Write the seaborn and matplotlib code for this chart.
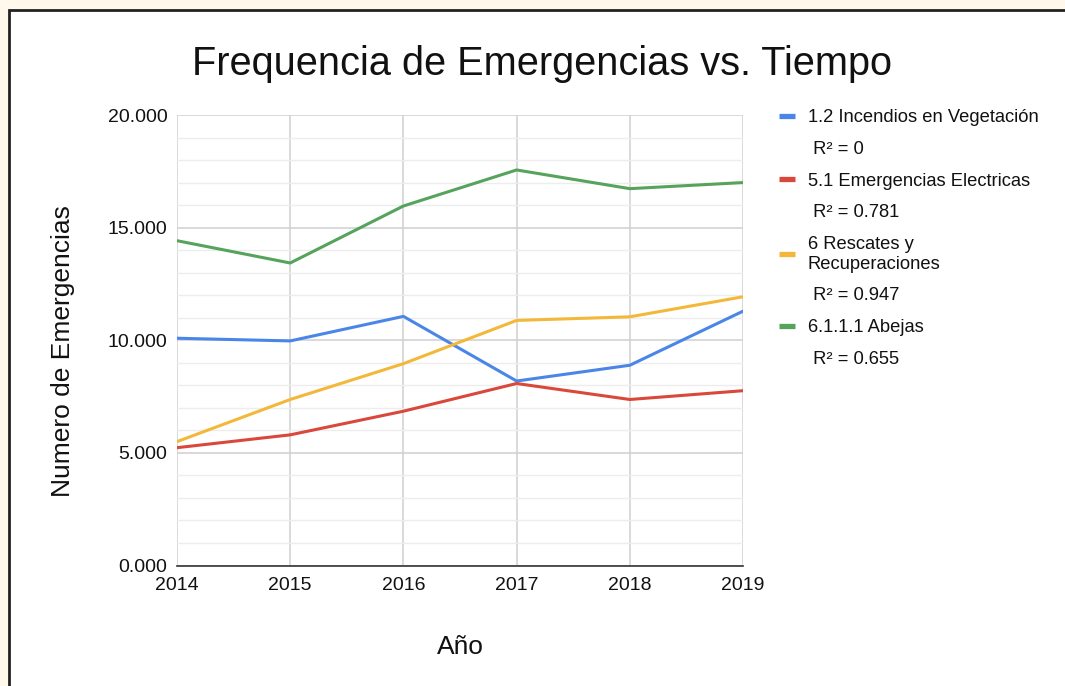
import matplotlib.pyplot as plt
import numpy as np
import pandas as pd
import seaborn as sns
from matplotlib.lines import Line2D
from matplotlib.patches import Rectangle
from matplotlib.ticker import FuncFormatter, MultipleLocator

YEARS = [2014, 2015, 2016, 2017, 2018, 2019]
SERIES = [
    "1.2 Incendios en Vegetación",
    "5.1 Emergencias Electricas",
    "6 Rescates y\nRecuperaciones",
    "6.1.1.1 Abejas",
]
INCENDIOS = [10090, 9970, 11060, 8190, 8890, 11290]
ELECTRICAS = [5230, 5800, 6850, 8080, 7370, 7760]
RESCATES = [5500, 7370, 8960, 10880, 11040, 11930]
ABEJAS = [14420, 13430, 15960, 17560, 16730, 17000]
R2_LABELS = ["R² = 0", "R² = 0.781", "R² = 0.947", "R² = 0.655"]

PALETTE = {
    SERIES[0]: "#4A86E8",
    SERIES[1]: "#D9483B",
    SERIES[2]: "#F3B83A",
    SERIES[3]: "#56A35B",
}

df = pd.DataFrame({
    "year": YEARS * 4,
    "value": INCENDIOS + ELECTRICAS + RESCATES + ABEJAS,
    "series": np.repeat(SERIES, len(YEARS)),
})

sns.set_style("white")
plt.rcParams["font.family"] = ["Liberation Sans", "DejaVu Sans"]
plt.rcParams["text.color"] = "#111111"
plt.rcParams["axes.labelcolor"] = "#111111"

fig = plt.figure(figsize=(10.65, 6.86), dpi=100)
fig.patch.set_facecolor("#FFF8EB")
# white card with dark border, open to the right/bottom edges
fig.patches.append(Rectangle((9 / 1065, -0.05), 1.1, 1 - 10 / 686 + 0.05,
                             transform=fig.transFigure, facecolor="white",
                             edgecolor="#222222", linewidth=2, zorder=-1))

ax = fig.add_axes([177 / 1065, 1 - 565.5 / 686, (743 - 177) / 1065, (565.5 - 115) / 686])
ax.set_facecolor("white")

sns.lineplot(data=df, x="year", y="value", hue="series", hue_order=SERIES,
             palette=PALETTE, linewidth=2.2, legend=False, ax=ax)

ax.set_xlim(2014, 2019)
ax.set_ylim(0, 20000)
ax.yaxis.set_major_locator(MultipleLocator(5000))
ax.yaxis.set_minor_locator(MultipleLocator(1000))
ax.yaxis.set_major_formatter(FuncFormatter(lambda v, _: f"{v / 1000:.3f}"))
ax.set_xticks(YEARS)
ax.grid(which="major", color="#D0D0D0", linewidth=1.1)
ax.grid(which="minor", axis="y", color="#EDEDED", linewidth=1.0)
ax.set_axisbelow(True)
for side in ["top", "right", "left"]:
    ax.spines[side].set_visible(False)
ax.spines["bottom"].set_color("#333333")
ax.spines["bottom"].set_linewidth(1.2)
ax.tick_params(axis="both", which="both", length=0, labelsize=14, colors="#111111")
ax.tick_params(axis="y", pad=7)
ax.tick_params(axis="x", pad=8)

ax.set_xlabel("Año", fontsize=19)
ax.xaxis.set_label_coords(0.5, -0.18)
ax.xaxis.label.set_va("center")
ax.set_ylabel("Numero de Emergencias", fontsize=19)
ax.yaxis.set_label_coords(-0.202, 0.476)
ax.yaxis.label.set_va("center")
fig.text(0.509, 1 - 64 / 686, "Frequencia de Emergencias vs. Tiempo",
         ha="center", va="center", fontsize=28.6)

handles, labels = [], []
for s, r2 in zip(SERIES, R2_LABELS):
    handles.append(Line2D([], [], color=PALETTE[s], linewidth=3.8, solid_capstyle="butt"))
    labels.append(s)
    handles.append(Line2D([], [], color="none"))
    labels.append(" " + r2)
fig.legend(handles, labels, loc="upper left", bbox_to_anchor=(772 / 1065, 1 - 102 / 686),
           frameon=False, fontsize=13.2, handlelength=0.85, handletextpad=0.7,
           labelspacing=0.8, borderaxespad=0)

fig.savefig("out.png", dpi=100)
